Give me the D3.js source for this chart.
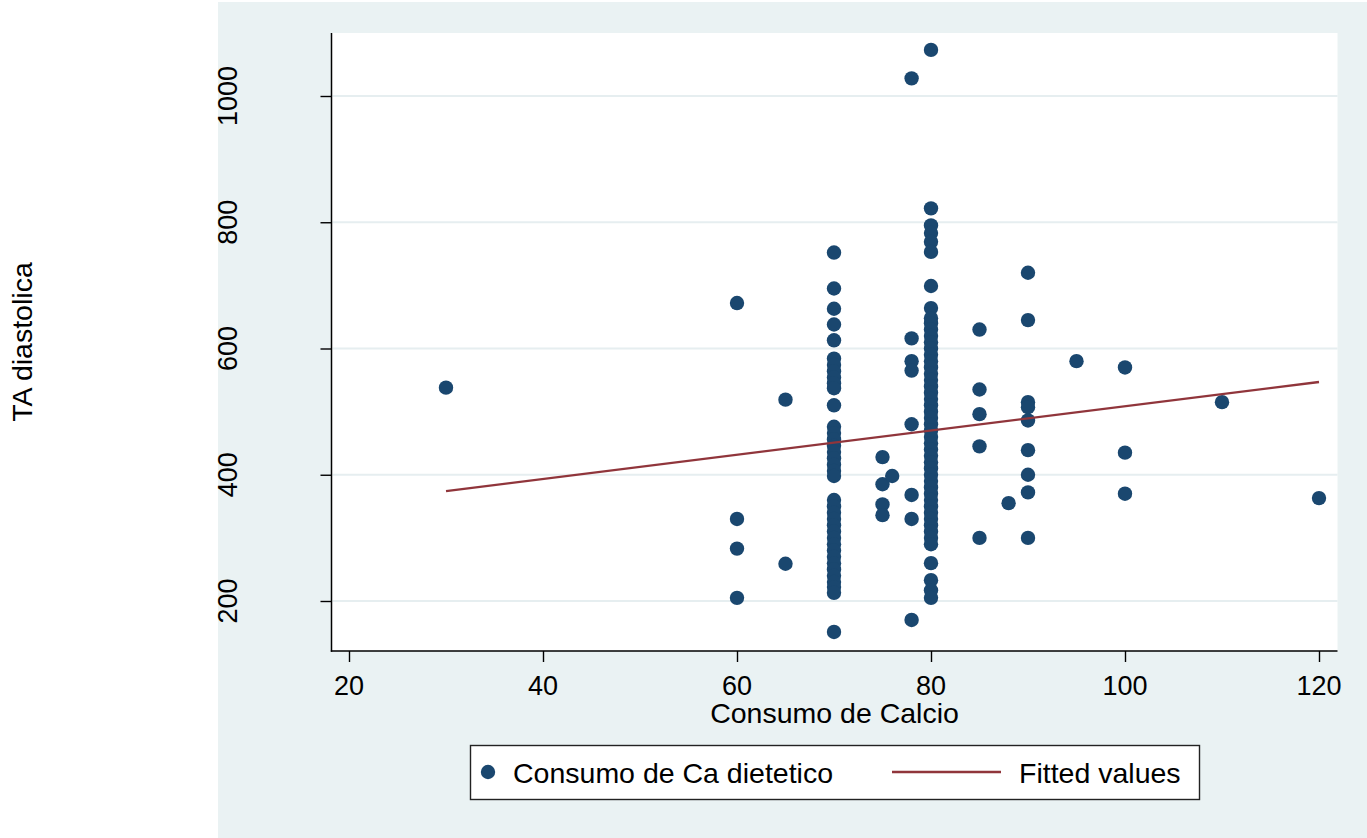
<!DOCTYPE html>
<html>
<head>
<meta charset="utf-8">
<script src="https://cdn.jsdelivr.net/npm/d3@7"></script>
<style>
  html, body { margin: 0; padding: 0; background: #ffffff; }
  svg { display: block; }
  text { font-family: "Liberation Sans", Arial, sans-serif; fill: #000; }
</style>
</head>
<body>
<svg id="chart" width="1367" height="838"></svg>
<script>
// ---- data ----
const consumoCalcio = [
  30,
  60, 60, 60, 60,
  65, 65,
  70, 70, 70, 70, 70, 70, 70, 70, 70, 70, 70, 70, 70, 70, 70, 70, 70, 70, 70, 70, 70,
  70, 70, 70, 70, 70, 70, 70, 70, 70, 70, 70, 70, 70, 70, 70, 70, 70,
  75, 75, 75, 75,
  76,
  78, 78, 78, 78, 78, 78, 78, 78,
  80, 80, 80, 80, 80, 80, 80, 80,
  80, 80, 80, 80, 80, 80, 80, 80, 80, 80, 80, 80, 80, 80, 80, 80, 80, 80, 80, 80, 80,
  80, 80, 80, 80, 80, 80, 80, 80, 80, 80, 80, 80, 80, 80, 80, 80,
  80, 80, 80, 80,
  85, 85, 85, 85, 85,
  88,
  90, 90, 90, 90, 90, 90, 90, 90, 90,
  95,
  100, 100, 100,
  110,
  120
];
const taDiastolica = [
  538,
  672, 330, 283, 205,
  519, 259,
  752, 695, 663, 638, 613, 584, 574, 564, 554, 545, 537, 510, 476, 466, 456, 446, 436,
  426, 416, 406, 398, 360, 350, 340, 330, 320, 310, 300, 290, 280, 270, 260, 250, 240, 230, 222, 213, 151,
  428, 385, 353, 336,
  398,
  1028, 616, 580, 565, 480, 368, 330, 170,
  1073, 822, 795, 783, 769, 753, 699, 664,
  648, 640, 630, 620, 610, 600, 590, 580, 570, 560, 550, 540, 530, 520, 510, 500, 490, 480, 470, 460, 450,
  440, 430, 420, 410, 400, 390, 380, 370, 360, 350, 340, 330, 320, 310, 300, 290,
  260, 233, 217, 205,
  630, 535, 496, 445, 300,
  355,
  720, 645, 515, 507, 486, 439, 400, 372, 300,
  580,
  570, 435, 370,
  515,
  363
];
const fittedX = [30, 120];
const fittedY = [374, 547];
const xTicks = [20, 40, 60, 80, 100, 120];
const yTicks = [200, 400, 600, 800, 1000];
const xTitle = "Consumo de Calcio";
const yTitle = "TA diastolica";
const legendLabels = ["Consumo de Ca dietetico", "Fitted values"];

// ---- styles ----
const bgColor = "#eaf2f3";
const gridColor = "#e6eef0";
const dotColor = "#1a476f";
const lineColor = "#90353b";

const svg = d3.select("#chart");

// figure background
svg.append("rect").attr("x", 218).attr("y", 2).attr("width", 1367 - 218).attr("height", 836)
  .attr("fill", bgColor);

const plot = { left: 331.5, right: 1337.5, top: 33, bottom: 651 };
svg.append("rect").attr("x", plot.left).attr("y", plot.top)
  .attr("width", plot.right - plot.left).attr("height", plot.bottom - plot.top)
  .attr("fill", "#ffffff");

const x = d3.scaleLinear().domain([20, 120]).range([349, 1319]);
const y = d3.scaleLinear().domain([200, 1000]).range([601, 96]);

// gridlines
svg.append("g").selectAll("line").data(yTicks).join("line")
  .attr("x1", plot.left + 1).attr("x2", plot.right)
  .attr("y1", d => y(d)).attr("y2", d => y(d))
  .attr("stroke", gridColor).attr("stroke-width", 2.2);

// axes
const yAxis = d3.axisLeft(y).tickValues(yTicks).tickSize(11).tickFormat("");
const gy = svg.append("g").attr("transform", `translate(${plot.left},0)`).call(yAxis);
gy.select(".domain").remove();
gy.selectAll(".tick line").attr("stroke", "#000").attr("stroke-width", 1.4);
svg.append("line").attr("x1", plot.left).attr("x2", plot.left)
  .attr("y1", plot.top).attr("y2", plot.bottom + 0.7)
  .attr("stroke", "#000").attr("stroke-width", 1.5);

const xAxis = d3.axisBottom(x).tickValues(xTicks).tickSize(11).tickFormat("");
const gx = svg.append("g").attr("transform", `translate(0,${plot.bottom})`).call(xAxis);
gx.select(".domain").remove();
gx.selectAll(".tick line").attr("stroke", "#000").attr("stroke-width", 1.4);
svg.append("line").attr("x1", plot.left - 0.7).attr("x2", plot.right)
  .attr("y1", plot.bottom).attr("y2", plot.bottom)
  .attr("stroke", "#000").attr("stroke-width", 1.5);

// tick labels
svg.append("g").selectAll("text").data(xTicks).join("text")
  .attr("x", d => x(d)).attr("y", 695)
  .attr("text-anchor", "middle").attr("font-size", 27)
  .text(d => d);
svg.append("g").selectAll("text").data(yTicks).join("text")
  .attr("transform", d => `translate(237,${y(d)}) rotate(-90)`)
  .attr("text-anchor", "middle").attr("font-size", 27)
  .text(d => d);

// axis titles
svg.append("text").attr("x", (plot.left + plot.right) / 2).attr("y", 723)
  .attr("text-anchor", "middle").attr("font-size", 28.5).text(xTitle);
svg.append("text").attr("transform", `translate(32,${(plot.top + plot.bottom) / 2}) rotate(-90)`)
  .attr("text-anchor", "middle").attr("font-size", 28.5).text(yTitle);

// points
const pts = consumoCalcio.map((cx, i) => ({ cx, cy: taDiastolica[i] }));
svg.append("g").selectAll("circle").data(pts).join("circle")
  .attr("cx", d => x(d.cx)).attr("cy", d => y(d.cy)).attr("r", 7.2)
  .attr("fill", dotColor);

// fitted line
const line = d3.line().x(d => x(d[0])).y(d => y(d[1]));
svg.append("path").datum(fittedX.map((v, i) => [v, fittedY[i]]))
  .attr("d", line).attr("fill", "none").attr("stroke", lineColor).attr("stroke-width", 2.4);

// legend
const lg = svg.append("g");
lg.append("rect").attr("x", 470.5).attr("y", 745.5).attr("width", 729).attr("height", 54)
  .attr("fill", "#fff").attr("stroke", "#222").attr("stroke-width", 1.4);
lg.append("circle").attr("cx", 488).attr("cy", 772).attr("r", 7.2).attr("fill", dotColor);
lg.append("text").attr("x", 513).attr("y", 783).attr("font-size", 28.5).text(legendLabels[0]);
lg.append("line").attr("x1", 892).attr("x2", 1001).attr("y1", 772).attr("y2", 772)
  .attr("stroke", lineColor).attr("stroke-width", 2.4);
lg.append("text").attr("x", 1019).attr("y", 783).attr("font-size", 28.5).text(legendLabels[1]);
</script>
</body>
</html>
